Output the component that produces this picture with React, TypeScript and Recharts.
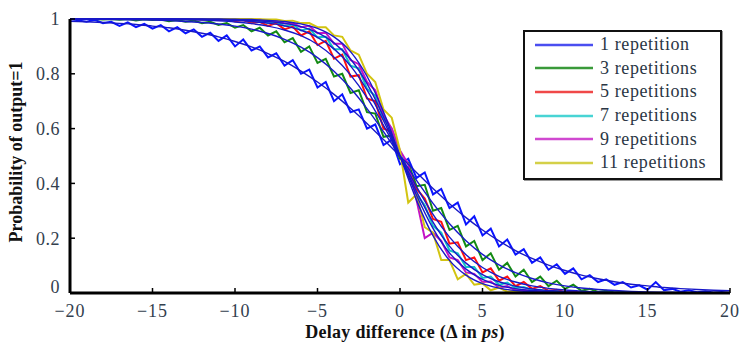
import React from "react";
import { LineChart, Line, XAxis, YAxis, Legend, Label } from "recharts";

// x sampling grid (step 0.5 ps) and the integer grid used by the fitted curves
const delays = Array.from({ length: 81 }, (_, i) => -20 + i * 0.5);
const xTicks = [-20, -15, -10, -5, 0, 5, 10, 15, 20];
const yTicks = [0, 0.2, 0.4, 0.6, 0.8, 1];

const seriesNames = [
  "1 repetition",
  "3 repetitions",
  "5 repetitions",
  "7 repetitions",
  "9 repetitions",
  "11 repetitions",
];

// measured probabilities, x = -20 .. 20 step 0.5
const rep1 = [
  1.0, 0.995, 0.99, 0.997, 0.985, 0.99, 0.975, 0.988, 0.97, 0.982, 0.965, 0.978,
  0.955, 0.97, 0.948, 0.962, 0.935, 0.95, 0.92, 0.94, 0.9, 0.925, 0.885, 0.9,
  0.86, 0.875, 0.83, 0.85, 0.8, 0.815, 0.75, 0.77, 0.7, 0.725, 0.66, 0.67, 0.6,
  0.615, 0.54, 0.56, 0.47, 0.49, 0.42, 0.44, 0.36, 0.38, 0.31, 0.33, 0.25, 0.28,
  0.21, 0.235, 0.17, 0.195, 0.14, 0.16, 0.11, 0.13, 0.085, 0.105, 0.07, 0.09,
  0.05, 0.065, 0.04, 0.05, 0.03, 0.04, 0.02, 0.028, 0.012, 0.04, 0.01, 0.015,
  0.005, 0.01, 0.003, 0.006, 0.002, 0.004, 0,
];
const rep3 = [
  1, 1, 1, 1, 0.998, 1, 0.997, 1, 0.995, 0.999, 0.996, 0.998, 0.992, 0.996,
  0.99, 0.994, 0.985, 0.99, 0.978, 0.985, 0.968, 0.978, 0.955, 0.968, 0.94,
  0.955, 0.915, 0.93, 0.88, 0.9, 0.84, 0.855, 0.79, 0.8, 0.73, 0.74, 0.66,
  0.655, 0.57, 0.575, 0.49, 0.475, 0.39, 0.395, 0.3, 0.31, 0.23, 0.245, 0.17,
  0.19, 0.12, 0.145, 0.085, 0.11, 0.06, 0.085, 0.04, 0.06, 0.025, 0.045, 0.015,
  0.03, 0.008, 0.015, 0.004, 0.008, 0.002, 0.004, 0, 0, 0, 0, 0, 0, 0, 0, 0, 0,
  0, 0, 0,
];
const rep5 = [
  1, 1, 1, 1, 1, 1, 1, 1, 1, 1, 1, 1, 1, 1, 1, 1, 0.998, 1, 0.996, 0.999, 0.992,
  0.996, 0.985, 0.99, 0.975, 0.985, 0.962, 0.972, 0.94, 0.955, 0.905, 0.92,
  0.855, 0.87, 0.79, 0.795, 0.71, 0.7, 0.6, 0.59, 0.5, 0.45, 0.38, 0.345, 0.27,
  0.26, 0.18, 0.185, 0.12, 0.13, 0.075, 0.09, 0.045, 0.06, 0.025, 0.04, 0.015,
  0.025, 0.008, 0.012, 0.003, 0.006, 0, 0.002, 0, 0, 0, 0, 0, 0, 0, 0, 0, 0, 0,
  0, 0, 0, 0, 0, 0,
];
const rep7 = [
  1, 1, 1, 1, 1, 1, 1, 1, 1, 1, 1, 1, 1, 1, 1, 1, 1, 1, 1, 0.999, 0.996, 0.998,
  0.992, 0.995, 0.985, 0.99, 0.975, 0.98, 0.958, 0.965, 0.933, 0.935, 0.89,
  0.89, 0.83, 0.82, 0.745, 0.72, 0.635, 0.6, 0.51, 0.44, 0.36, 0.32, 0.245,
  0.22, 0.155, 0.145, 0.095, 0.095, 0.055, 0.06, 0.03, 0.038, 0.018, 0.022,
  0.01, 0.012, 0.004, 0.006, 0, 0, 0, 0, 0, 0, 0, 0, 0, 0, 0, 0, 0, 0, 0, 0, 0,
  0, 0, 0, 0,
];
const rep9 = [
  1, 1, 1, 1, 1, 1, 1, 1, 1, 1, 1, 1, 1, 1, 1, 1, 1, 1, 1, 1, 1, 0.999, 0.996,
  0.998, 0.992, 0.994, 0.984, 0.985, 0.97, 0.975, 0.948, 0.95, 0.91, 0.91, 0.85,
  0.835, 0.77, 0.74, 0.65, 0.6, 0.52, 0.47, 0.34, 0.2, 0.22, 0.19, 0.13, 0.12,
  0.075, 0.07, 0.04, 0.042, 0.02, 0.025, 0.01, 0.012, 0.005, 0.006, 0, 0, 0, 0,
  0, 0, 0, 0, 0, 0, 0, 0, 0, 0, 0, 0, 0, 0, 0, 0, 0, 0, 0,
];
const rep11 = [
  1, 1, 1, 1, 1, 1, 1, 1, 1, 1, 1, 1, 1, 1, 1, 1, 1, 1, 1, 1, 1, 1, 1, 0.999,
  0.998, 0.998, 0.993, 0.994, 0.985, 0.985, 0.97, 0.97, 0.94, 0.935, 0.885,
  0.87, 0.8, 0.77, 0.67, 0.64, 0.52, 0.33, 0.36, 0.24, 0.22, 0.12, 0.12, 0.05,
  0.07, 0.03, 0.035, 0.01, 0.02, 0.005, 0.008, 0, 0, 0, 0, 0, 0, 0, 0, 0, 0, 0,
  0, 0, 0, 0, 0, 0, 0, 0, 0, 0, 0, 0, 0, 0, 0,
];

// fitted curves, x = -20 .. 20 step 1
const fit1 = [
  0.992, 0.99, 0.987, 0.984, 0.98, 0.974, 0.968, 0.959, 0.948, 0.935, 0.918,
  0.898, 0.874, 0.845, 0.81, 0.77, 0.725, 0.674, 0.619, 0.56, 0.5, 0.44, 0.381,
  0.326, 0.275, 0.23, 0.19, 0.155, 0.126, 0.102, 0.082, 0.065, 0.052, 0.041,
  0.032, 0.026, 0.02, 0.016, 0.013, 0.01, 0.008,
];
const fit3 = [
  0.999, 0.999, 0.999, 0.998, 0.997, 0.996, 0.994, 0.991, 0.987, 0.982, 0.974,
  0.963, 0.947, 0.926, 0.897, 0.859, 0.809, 0.747, 0.673, 0.589, 0.5, 0.411,
  0.327, 0.253, 0.191, 0.141, 0.103, 0.074, 0.053, 0.037, 0.026, 0.018, 0.013,
  0.009, 0.006, 0.004, 0.003, 0.002, 0.001, 0.001, 0.001,
];
const fit5 = [
  1, 1, 1, 1, 1, 0.999, 0.998, 0.997, 0.996, 0.993, 0.989, 0.983, 0.974, 0.96,
  0.939, 0.907, 0.86, 0.796, 0.713, 0.612, 0.5, 0.388, 0.287, 0.204, 0.14,
  0.093, 0.061, 0.04, 0.026, 0.017, 0.011, 0.007, 0.004, 0.003, 0.002, 0.001, 0,
  0, 0, 0, 0,
];
const fit7 = [
  1, 1, 1, 1, 1, 1, 1, 0.999, 0.998, 0.997, 0.995, 0.991, 0.985, 0.975, 0.959,
  0.933, 0.891, 0.829, 0.741, 0.629, 0.5, 0.371, 0.259, 0.171, 0.109, 0.067,
  0.041, 0.025, 0.015, 0.009, 0.005, 0.003, 0.002, 0.001, 0, 0, 0, 0, 0, 0, 0,
];
const fit9 = [
  1, 1, 1, 1, 1, 1, 1, 1, 0.999, 0.998, 0.997, 0.995, 0.991, 0.984, 0.972, 0.95,
  0.913, 0.854, 0.764, 0.643, 0.5, 0.357, 0.236, 0.146, 0.087, 0.05, 0.028,
  0.016, 0.009, 0.005, 0.003, 0.002, 0.001, 0, 0, 0, 0, 0, 0, 0, 0,
];
const fit11 = [
  1, 1, 1, 1, 1, 1, 1, 1, 1, 1, 0.999, 0.998, 0.995, 0.991, 0.982, 0.966, 0.935,
  0.881, 0.791, 0.661, 0.5, 0.339, 0.209, 0.119, 0.065, 0.034, 0.018, 0.009,
  0.005, 0.002, 0.001, 0, 0, 0, 0, 0, 0, 0, 0, 0, 0,
];

const reps = [rep1, rep3, rep5, rep7, rep9, rep11];
const fits = [fit1, fit3, fit5, fit7, fit9, fit11];
const lineColors = ["#0a14ff", "#138a13", "#ff1010", "#12c4c4", "#c412c4", "#d2c410"];
const legendColors = ["#4a4ef0", "#3a9a3a", "#f04848", "#48d4d4", "#d048d0", "#d4d048"];
const fitColor = "#1818c8";

const data = delays.map((x, i) => {
  const row: Record<string, number | undefined> = { x };
  reps.forEach((r, k) => {
    row[`r${k}`] = r[i];
    row[`f${k}`] = i % 2 === 0 ? fits[k][i / 2] : undefined;
  });
  return row;
});

const serif = '"Liberation Serif"';
const tickColor = "#33404e";
const minus = (v: number) => String(v).replace("-", "\u2212");

// x tick labels
const XTick = (props: any) => {
  const { x, y, payload } = props;
  return (
    <text
      x={x}
      y={y}
      dy="0.71em"
      textAnchor="middle"
      style={{ fontFamily: serif, fontSize: 18, letterSpacing: 1 }}
      fill={tickColor}
    >
      {minus(payload.value)}
    </text>
  );
};

// y tick labels; the "0" sits a little higher so it clears the "−20" below it
const YTick = (props: any) => {
  const { x, y, payload } = props;
  const lift = payload.value === 0 ? -6 : 0;
  return (
    <text
      x={x}
      y={y + lift}
      dy="0.355em"
      textAnchor="end"
      style={{ fontFamily: serif, fontSize: 18, letterSpacing: 0.5 }}
      fill={tickColor}
    >
      {payload.value}
    </text>
  );
};

const LegendBox = () => (
  <div
    style={{
      width: 199,
      height: 150,
      boxSizing: "border-box",
      border: "2.5px solid #111",
      background: "#fff",
      padding: "1px 0 0 10px",
      fontFamily: serif,
      fontSize: 18,
      letterSpacing: 0.6,
      color: "#2a3644",
      boxShadow: "1px 1px 0 #999",
    }}
  >
    {seriesNames.map((name, k) => (
      <div key={name} style={{ display: "flex", alignItems: "center", height: 23.6 }}>
        <svg width={60} height={6} style={{ marginRight: 5 }}>
          <line x1={0} y1={3} x2={58} y2={3} stroke={legendColors[k]} strokeWidth={2.5} />
        </svg>
        <span>{name}</span>
      </div>
    ))}
  </div>
);

export default function App() {
  return (
    <div style={{ width: 741, height: 345, background: "#fff" }}>
      <style>{`body{margin:0}`}</style>
      <LineChart
        width={741}
        height={345}
        data={data}
        margin={{ top: 19, right: 11, left: 30, bottom: 22 }}
      >
        <XAxis
          dataKey="x"
          type="number"
          domain={[-20, 20]}
          ticks={xTicks}
          height={30}
          axisLine={{ stroke: "#000", strokeWidth: 3 }}
          tickLine={{ stroke: "#000", strokeWidth: 1.5 }}
          tickSize={-5}
          tickMargin={16}
          tick={<XTick />}
        >
          <Label
            content={() => (
              <text
                x={405}
                y={338}
                textAnchor="middle"
                style={{ fontFamily: serif, fontWeight: "bold", fontSize: 18, letterSpacing: 0.3 }}
                fill="#111"
              >
                Delay difference (Δ in <tspan fontStyle="italic">ps</tspan>)
              </text>
            )}
          />
        </XAxis>
        <XAxis
          xAxisId="top"
          dataKey="x"
          type="number"
          orientation="top"
          domain={[-20, 20]}
          ticks={xTicks}
          height={0}
          axisLine={{ stroke: "#000", strokeWidth: 1.8 }}
          tickLine={{ stroke: "#000", strokeWidth: 1.5 }}
          tickSize={-5}
          tick={false}
        />
        <YAxis
          type="number"
          domain={[0, 1]}
          ticks={yTicks}
          width={40}
          axisLine={{ stroke: "#000", strokeWidth: 3 }}
          tickLine={{ stroke: "#000", strokeWidth: 1.5 }}
          tickSize={-5}
          tickMargin={15}
          tick={<YTick />}
        >
          <Label
            content={() => (
              <text
                x={16}
                y={152}
                dy="0.35em"
                transform="rotate(-90 16 152)"
                textAnchor="middle"
                style={{ fontFamily: serif, fontWeight: "bold", fontSize: 18 }}
                fill="#111"
              >
                Probability of output=1
              </text>
            )}
          />
        </YAxis>
        <YAxis
          yAxisId="right"
          type="number"
          orientation="right"
          domain={[0, 1]}
          ticks={yTicks}
          width={0}
          axisLine={{ stroke: "#000", strokeWidth: 1.8 }}
          tickLine={{ stroke: "#000", strokeWidth: 1.5 }}
          tickSize={-5}
          tick={false}
        />
        <Legend
          layout="horizontal"
          verticalAlign="middle"
          align="center"
          content={() => <LegendBox />}
          wrapperStyle={{ left: 523, top: 30, right: "auto", bottom: "auto", width: 199, height: 150 }}
        />
        {seriesNames.map((name, k) => (
          <Line
            key={name}
            dataKey={`r${k}`}
            name={name}
            type="linear"
            stroke={lineColors[k]}
            strokeWidth={2}
            dot={false}
            isAnimationActive={false}
          />
        ))}
        {seriesNames.map((name, k) => (
          <Line
            key={`fit-${name}`}
            dataKey={`f${k}`}
            name={`${name} fit`}
            type="monotone"
            connectNulls
            stroke={fitColor}
            strokeWidth={1.4}
            dot={false}
            legendType="none"
            isAnimationActive={false}
          />
        ))}
      </LineChart>
    </div>
  );
}
